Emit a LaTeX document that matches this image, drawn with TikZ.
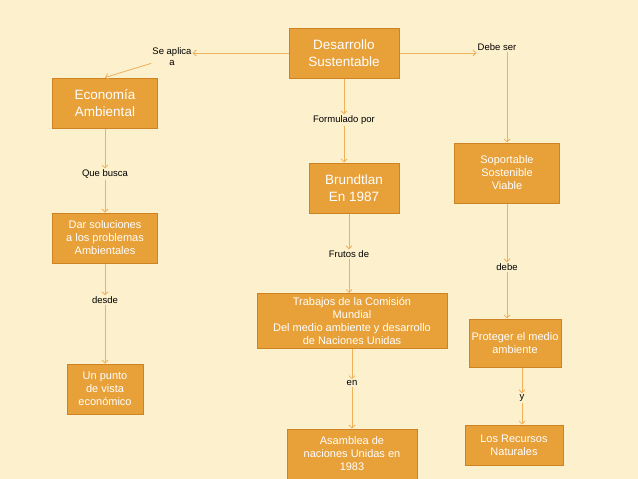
\documentclass[tikz,border=0pt]{standalone}
\usepackage{fontspec}
\setmainfont{Liberation Sans}
\usepackage{tikz}
\usetikzlibrary{arrows.meta, positioning}
\definecolor{boxorange}{RGB}{232, 160, 56}
\definecolor{boxedge}{RGB}{205, 130, 35}
\definecolor{linkorange}{RGB}{236, 178, 92}
\definecolor{paper}{RGB}{253, 240, 205}

\begin{document}
\begin{tikzpicture}[x=1pt, y=-1pt,
    concept/.style={rectangle, draw=boxedge, line width=1pt, fill=boxorange, text=white, align=center, font=\fontsize{13.5}{17}\selectfont, inner sep=2pt},
    small/.style={font=\fontsize{11}{13}\selectfont},
    link/.style={font=\fontsize{9.5}{11}\selectfont, align=center, inner sep=1pt},
    arrow/.style={-{Straight Barb[length=3pt]}, linkorange, line width=0.8pt}
]
\fill[paper] (0,0) rectangle (638,479);
\useasboundingbox (0,0) rectangle (638,479);

\node[concept, minimum width=110, minimum height=50] (desarrollo) at (344,53) {Desarrollo\\Sustentable};
\node[concept, minimum width=105, minimum height=50] (economia) at (105,103) {Economía\\Ambiental};
\node[concept, minimum width=90, minimum height=50] (brundtlan) at (354,188) {Brundtlan\\En 1987};
\node[concept, small, minimum width=105, minimum height=60] (soportable) at (507,173) {Soportable\\Sostenible\\Viable};
\node[concept, small, minimum width=105, minimum height=50] (soluciones) at (105,238) {Dar soluciones\\a los problemas\\Ambientales};
\node[concept, small, minimum width=190, minimum height=55] (trabajos) at (352,321) {Trabajos de la Comisión\\Mundial\\Del medio ambiente y desarrollo\\de Naciones Unidas};
\node[concept, small, minimum width=92, minimum height=48] (proteger) at (515,343) {Proteger el medio\\ambiente};
\node[concept, small, minimum width=76, minimum height=50] (punto) at (105,389) {Un punto\\de vista\\económico};
\node[concept, small, minimum width=130, minimum height=50] (asamblea) at (352,454) {Asamblea de\\naciones Unidas en\\1983};
\node[concept, small, minimum width=98, minimum height=40] (recursos) at (514,445) {Los  Recursos\\Naturales};

\node[link] (aplica) at (172,57) {Se aplica\\a};
\node[link] (debeser) at (497,47) {Debe ser};
\node[link] (formulado) at (344,120) {Formulado por};
\node[link] (busca) at (105,174) {Que busca};
\node[link] (frutos) at (349,254) {Frutos de};
\node[link] (debe) at (507,267) {debe};
\node[link] (desde) at (105,300) {desde};
\node[link] (en) at (352,383) {en};
\node[link] (y) at (522,398) {y};

\draw[arrow] (desarrollo) -- (aplica.east |- desarrollo);
\draw[arrow] (aplica) -- (economia.north);
\draw[arrow] (desarrollo) -- (debeser.west |- desarrollo);
\draw[arrow] (debeser.south -| soportable) -- (soportable);
\draw[arrow] (desarrollo) -- (formulado);
\draw[arrow] (formulado) -- (formulado |- brundtlan.north);
\draw[arrow] (economia) -- (busca);
\draw[arrow] (busca) -- (soluciones);
\draw[arrow] (brundtlan.south -| frutos) -- (frutos);
\draw[arrow] (frutos) -- (frutos |- trabajos.north);
\draw[arrow] (soportable) -- (debe.north -| soportable);
\draw[arrow] (debe.south -| soportable) -- (soportable |- proteger.north);
\draw[arrow] (soluciones) -- (desde);
\draw[arrow] (desde) -- (punto);
\draw[arrow] (trabajos) -- (en);
\draw[arrow] (en) -- (asamblea);
\draw[arrow] (proteger.south -| y) -- (y);
\draw[arrow] (y) -- (y |- recursos.north);
\end{tikzpicture}
\end{document}
